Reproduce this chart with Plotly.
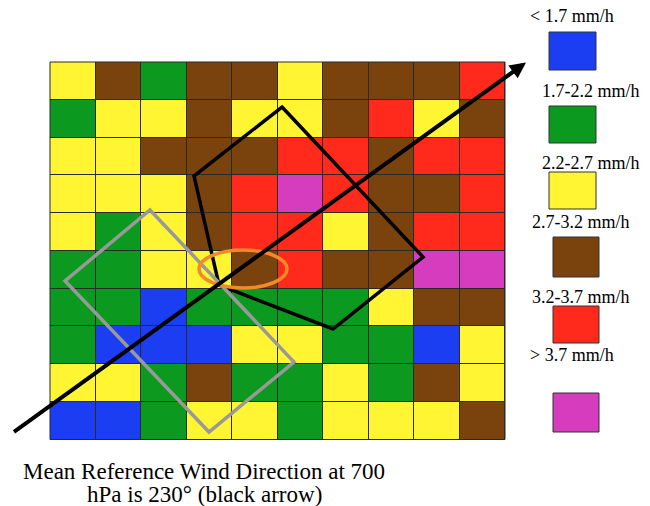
import plotly.graph_objects as go

# Rainfall-rate classes and their colours
classes = ["< 1.7 mm/h", "1.7-2.2 mm/h", "2.2-2.7 mm/h", "2.7-3.2 mm/h", "3.2-3.7 mm/h", "> 3.7 mm/h"]
class_colors = ["#1c3ef2", "#0b9a1f", "#fff533", "#7a420c", "#ff2a1c", "#d63cbe"]

# Grid of class codes (0-5), top row first
B, G, Y, N, R, M = range(6)
grid_rows = [
    [Y, N, G, N, N, Y, N, N, N, R],
    [G, Y, Y, N, Y, Y, N, R, Y, N],
    [Y, Y, N, N, N, R, R, N, R, R],
    [Y, Y, Y, N, R, M, R, N, N, R],
    [Y, G, Y, N, R, R, Y, N, R, R],
    [G, G, Y, Y, N, R, N, N, M, M],
    [G, G, B, G, G, G, G, Y, N, N],
    [G, B, B, B, Y, Y, G, G, B, Y],
    [Y, Y, G, N, G, G, Y, G, N, Y],
    [B, B, G, Y, Y, G, Y, Y, Y, N],
]
columns = list(range(10))
rows = list(range(10))

caption_lines = ["Mean Reference Wind Direction at 700", "hPa is 230° (black arrow)"]

W, H = 650, 506


def px(x):
    return x / W


def py(y):
    return 1 - y / H


n = len(classes)
scale = []
for i, c in enumerate(class_colors):
    scale.append([i / n, c])
    scale.append([(i + 1) / n, c])

fig = go.Figure(
    go.Heatmap(
        z=grid_rows, x=columns, y=rows,
        colorscale=scale, zmin=-0.5, zmax=n - 0.5,
        showscale=False, xgap=1, ygap=1, hoverinfo="skip",
    )
)

fig.update_layout(
    width=W, height=H, margin=dict(l=0, r=0, t=0, b=0),
    paper_bgcolor="white", plot_bgcolor="#2a2a2a",
    xaxis=dict(domain=[px(50), px(505)], range=[-0.5, 9.5], visible=False),
    yaxis=dict(domain=[py(439.5), py(62)], range=[9.5, -0.5], visible=False),
    font=dict(family="Liberation Serif", color="black"),
    showlegend=False,
)

shapes = []
# outer frame of the grid
shapes.append(dict(type="rect", xref="paper", yref="paper",
                   x0=px(50), x1=px(505), y0=py(439.5), y1=py(62),
                   line=dict(color="#2a2a2a", width=1)))

# black upwind quadrilateral
black_poly = [(282, 107), (423, 257), (333, 329), (219, 285), (194, 176)]
path = "M " + " L ".join(f"{px(x)},{py(y)}" for x, y in black_poly) + " Z"
shapes.append(dict(type="path", xref="paper", yref="paper", path=path,
                   line=dict(color="black", width=3.5)))

# gray downwind rectangle
gray_poly = [(150, 210), (294, 362), (209, 432), (65, 281)]
path = "M " + " L ".join(f"{px(x)},{py(y)}" for x, y in gray_poly) + " Z"
shapes.append(dict(type="path", xref="paper", yref="paper", path=path,
                   line=dict(color="#999999", width=3.5)))

# orange ellipse around the reference cell
shapes.append(dict(type="circle", xref="paper", yref="paper",
                   x0=px(199), x1=px(287), y0=py(288), y1=py(250),
                   line=dict(color="#f28a2a", width=3.5)))

# legend swatches
swatch_boxes = [(549, 596, 32, 70), (549, 596, 106, 143), (549, 596, 172, 209),
                (553, 599, 237, 277), (553, 599, 306, 343), (553, 599, 393, 432)]
for (x0, x1, y0, y1), c in zip(swatch_boxes, class_colors):
    shapes.append(dict(type="rect", xref="paper", yref="paper",
                       x0=px(x0), x1=px(x1), y0=py(y1), y1=py(y0),
                       fillcolor=c, line=dict(color="#333333", width=1)))

fig.update_layout(shapes=shapes)

annotations = []
# wind direction arrow
annotations.append(dict(
    xref="paper", yref="paper", x=px(526), y=py(62.5),
    ax=12.5 - 526, ay=433 - 62.5, axref="pixel", ayref="pixel",
    showarrow=True, arrowhead=2, arrowsize=0.8, arrowwidth=4, arrowcolor="black",
    text="",
))

label_pos = [(572, 16), (591, 91), (591, 163), (581, 222), (581, 297), (572, 355)]
for (x, y), t in zip(label_pos, classes):
    annotations.append(dict(xref="paper", yref="paper", x=px(x), y=py(y),
                            text=t, showarrow=False, xanchor="center", yanchor="middle",
                            font=dict(size=18)))

for y, t in zip([471, 494], caption_lines):
    annotations.append(dict(xref="paper", yref="paper", x=px(204), y=py(y),
                            text=t, showarrow=False, xanchor="center", yanchor="middle",
                            font=dict(size=23)))

fig.update_layout(annotations=annotations)

fig.write_html("out.html")
